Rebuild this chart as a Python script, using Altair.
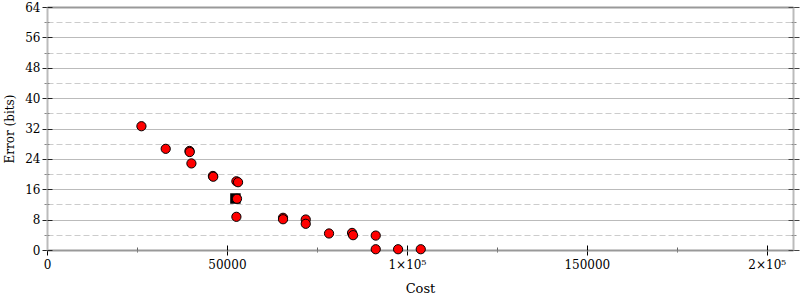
import altair as alt
import pandas as pd

# ---- data ----
cost = [26240, 32990, 39600, 39660, 40130, 46100, 46200, 52630, 53090, 52800,
        52630, 65590, 65590, 71900, 71900, 78370, 84770, 85050, 91350, 91350,
        97560, 103860]
error = [32.6, 26.65, 26.1, 25.8, 22.8, 19.5, 19.3, 18.1, 17.85, 13.5,
         8.74, 8.48, 8.1, 8.03, 6.9, 4.35, 4.5, 3.9, 3.8, 0.2,
         0.2, 0.2]
start_cost = [52360]
start_error = [13.56]

x_ticks = [0, 25000, 50000, 75000, 100000, 125000, 150000, 175000, 200000]
x_major = [0, 50000, 100000, 150000, 200000]
x_labels = ["0", "50000", "1×10⁵", "150000", "2×10⁵"]
y_ticks = list(range(0, 65, 4))
y_major = list(range(0, 65, 8))
y_labels = [str(v) for v in y_major]

X_DOMAIN = [0, 207300]
Y_DOMAIN = [0, 64]
W, H = 746, 243
FONT = "DejaVu Serif"

pts = pd.DataFrame({"cost": cost, "error": error})
start = pd.DataFrame({"cost": start_cost, "error": start_error})


def label_expr(values, labels):
    expr = "''"
    for v, l in reversed(list(zip(values, labels))):
        expr = f"datum.value === {v} ? '{l}' : ({expr})"
    return expr


def cond(test, a, b):
    return {"condition": {"test": test, "value": a}, "value": b}


xs = alt.Scale(domain=X_DOMAIN, nice=False, zero=False)
ys = alt.Scale(domain=Y_DOMAIN, nice=False, zero=False)

x_major_test = "datum.value % 50000 === 0"
y_major_test = "datum.value % 8 === 0"

# main x axis: bottom, labels, outward ticks
x_axis_main = alt.Axis(
    values=x_ticks, labelExpr=label_expr(x_major, x_labels), grid=False,
    tickSize=cond(x_major_test, 5, 2), tickColor=cond(x_major_test, "#000", "#666"),
    tickWidth=1, domainColor="#999", domainWidth=2,
    labelFont=FONT, labelFontSize=12, labelColor="#000", labelPadding=4,
    title="Cost", titleFont=FONT, titleFontSize=13, titleFontWeight="normal",
    titleColor="#000", titlePadding=12, labelFlush=False, labelOverlap=False,
)
# inward ticks at the bottom edge
x_axis_in = alt.Axis(
    orient="top", offset=-H, values=x_ticks, labels=False, grid=False, domain=False,
    tickSize=cond(x_major_test, 5, 3), tickColor=cond(x_major_test, "#000", "#666"),
    title=None,
)

y_axis_main = alt.Axis(
    orient="left", values=y_ticks, labelExpr=label_expr(y_major, y_labels),
    grid=True,
    gridColor={"condition": [{"test": "datum.value === 64", "value": "#999"},
                             {"test": y_major_test, "value": "#bbb"}],
               "value": "#ccc"},
    gridWidth=cond("datum.value === 64", 2, 1),
    gridDash=cond(y_major_test, [], [6, 3]),
    gridOpacity=cond("datum.value === 0", 0, 1),
    tickSize=cond(y_major_test, 5, 3), tickColor=cond(y_major_test, "#222", "#888"),
    domainColor="#bbb", domainWidth=2,
    labelFont=FONT, labelFontSize=12, labelColor="#000", labelPadding=2,
    title="Error (bits)", titleFont=FONT, titleFontSize=12, titleFontWeight="normal",
    titleColor="#000", titlePadding=8, labelFlush=False, labelOverlap=False,
)
y_axis_left_in = alt.Axis(
    orient="right", offset=-W, values=y_ticks, labels=False, grid=False, domain=False,
    tickSize=cond(y_major_test, 5, 2), tickColor=cond(y_major_test, "#222", "#888"),
    title=None,
)
y_axis_right = alt.Axis(
    orient="right", values=y_ticks, labels=False, grid=False,
    domainColor="#bbb", domainWidth=2,
    tickSize=cond(y_major_test, 6, 3), tickColor=cond(y_major_test, "#444", "#888"),
    title=None,
)
y_axis_right_in = alt.Axis(
    orient="left", offset=-W, values=y_ticks, labels=False, grid=False, domain=False,
    tickSize=cond(y_major_test, 5, 2), tickColor=cond(y_major_test, "#444", "#888"),
    title=None,
)

axes_a = alt.Chart(pts).mark_point(opacity=0).encode(
    x=alt.X("cost:Q", scale=xs, axis=x_axis_main),
    y=alt.Y("error:Q", scale=ys, axis=y_axis_main),
)
axes_b = alt.Chart(pts).mark_point(opacity=0).encode(
    x=alt.X("cost:Q", scale=xs, axis=x_axis_in),
    y=alt.Y("error:Q", scale=ys, axis=y_axis_left_in),
)
axes_c = alt.Chart(pts).mark_point(opacity=0).encode(
    x=alt.X("cost:Q", scale=xs, axis=None),
    y=alt.Y("error:Q", scale=ys, axis=y_axis_right),
)
axes_d = alt.Chart(pts).mark_point(opacity=0).encode(
    x=alt.X("cost:Q", scale=xs, axis=None),
    y=alt.Y("error:Q", scale=ys, axis=y_axis_right_in),
)

start_layer = alt.Chart(start).mark_point(
    shape="square", filled=True, color="#000", size=110, opacity=1
).encode(
    x=alt.X("cost:Q", scale=xs, axis=None),
    y=alt.Y("error:Q", scale=ys, axis=None),
)

points = alt.Chart(pts).mark_point(
    shape="circle", filled=True, fill="#ff0000", stroke="#000", strokeWidth=1,
    size=85, opacity=1, fillOpacity=1, strokeOpacity=1
).encode(
    x=alt.X("cost:Q", scale=xs, axis=None),
    y=alt.Y("error:Q", scale=ys, axis=None),
)

chart = alt.layer(axes_a, axes_b, axes_c, axes_d, start_layer, points).resolve_axis(
    x="independent", y="independent"
).properties(
    width=W, height=H,
    autosize=alt.AutoSizeParams(type="none"),
    padding={"left": 47, "top": 7, "right": 7, "bottom": 50},
    background="#ffffff",
).configure_view(strokeOpacity=0)

chart.save("out.html", embed_options={"renderer": "svg", "actions": False})
